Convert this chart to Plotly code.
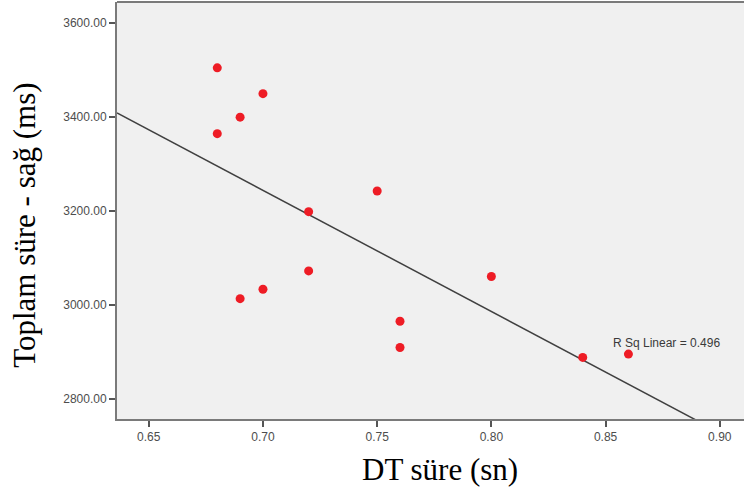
import numpy as np
import plotly.graph_objects as go

# DT süre (sn) vs. Toplam süre - sağ (ms)
dt_sure = [0.68, 0.68, 0.69, 0.69, 0.70, 0.70, 0.72, 0.72, 0.75, 0.76, 0.76, 0.80, 0.84, 0.86]
toplam_sure = [3505, 3365, 3400, 3014, 3450, 3034, 3199, 3073, 3243, 2966, 2910, 3061, 2889, 2896]

x_ticks = [0.65, 0.70, 0.75, 0.80, 0.85, 0.90]
y_ticks = [2800, 3000, 3200, 3400, 3600]
r_sq = 0.496

x_range = [0.6361, 0.9106]
y_range = [2758, 3645]

# least-squares fit line across the full x range
slope, intercept = np.polyfit(dt_sure, toplam_sure, 1)
fit_x = np.array(x_range)
fit_y = slope * fit_x + intercept

axis_color = "#7a7a7a"
tick_font = dict(family="Liberation Sans, Arial, sans-serif", size=12, color="#4d4d4d")
title_font = dict(family="Liberation Serif, Times New Roman, serif", size=31, color="#000000")

fig = go.Figure()
fig.add_trace(go.Scatter(
    x=fit_x, y=fit_y, mode="lines",
    line=dict(color="#404040", width=1.5),
    hoverinfo="skip", showlegend=False,
))
fig.add_trace(go.Scatter(
    x=dt_sure, y=toplam_sure, mode="markers",
    marker=dict(color="#ee1c25", size=9, line=dict(width=0)),
    showlegend=False,
))

fig.update_layout(
    width=744, height=493,
    margin=dict(l=117, r=0, t=2, b=74),
    paper_bgcolor="#ffffff",
    plot_bgcolor="#f0f0f0",
    showlegend=False,
    xaxis=dict(
        range=x_range, tickvals=x_ticks, tickformat=".2f",
        showgrid=False, zeroline=False,
        showline=True, linecolor=axis_color, linewidth=2,
        ticks="outside", ticklen=6, tickwidth=1.5, tickcolor="#555555",
        tickfont=tick_font,
    ),
    yaxis=dict(
        range=y_range, tickvals=y_ticks, tickformat=".2f",
        showgrid=False, zeroline=False,
        showline=True, linecolor=axis_color, linewidth=2,
        ticks="outside", ticklen=6, tickwidth=1.5, tickcolor="#555555",
        tickfont=tick_font,
    ),
    shapes=[dict(
        type="line", xref="paper", yref="paper",
        x0=0, x1=1, y0=1, y1=1,
        line=dict(color=axis_color, width=2),
    )],
    annotations=[
        dict(
            text="DT süre (sn)", xref="paper", yref="paper",
            x=0.515, y=0, yshift=-50, xanchor="center", yanchor="middle",
            showarrow=False, font=title_font,
        ),
        dict(
            text="Toplam süre - sağ (ms)", xref="paper", yref="paper",
            x=0, xshift=-92, y=0.4633, xanchor="center", yanchor="middle",
            textangle=-90, showarrow=False, font=title_font,
        ),
        dict(
            text=f"R Sq Linear = {r_sq:.3f}", xref="x", yref="y",
            x=0.8522, y=2920, xanchor="left", yanchor="middle",
            showarrow=False, font=dict(family="Liberation Sans, Arial, sans-serif", size=12, color="#3a3a3a"),
        ),
    ],
)

fig.write_html("out.html")
